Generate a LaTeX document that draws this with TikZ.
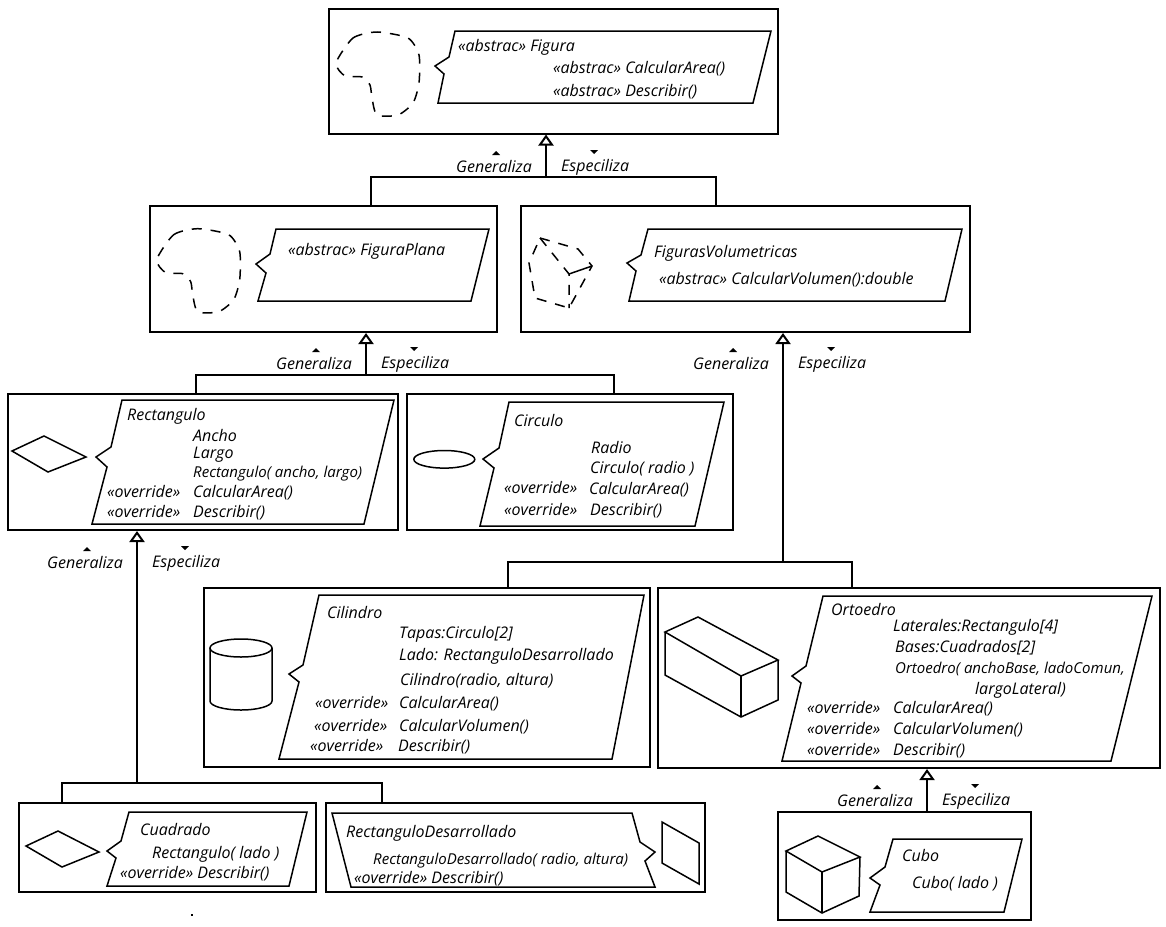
\documentclass[tikz,border=0pt]{standalone}
\usepackage{fontspec}
\setmainfont{Open Sans}
\usetikzlibrary{arrows.meta}
\tikzset{
  classbox/.style={draw,line width=2pt,inner sep=0pt},
  nota/.style={draw,line width=1.5pt,line join=miter},
  lbl/.style={anchor=west,inner sep=0pt,text height=11pt,text depth=3pt,yshift=-2pt},
  treeline/.style={line width=2pt},
  genline/.style={line width=2pt,-{Triangle[open,length=11pt,width=15pt]}},
  dashline/.style={line width=1.5pt,dash pattern=on 10pt off 9pt},
  solidfig/.style={line width=1.5pt,line join=miter}
}
\newcommand{\relabels}[3]{
  \node[lbl,name=#1Gen] at (#2,#3) {Generaliza};
  \node[lbl,name=#1Esp] at (#2+105,#3-1) {Especiliza};
  \fill (#2+36,#3-11) -- (#2+40,#3-15) -- (#2+44,#3-11) -- cycle;
  \fill (#2+134,#3-16) -- (#2+142,#3-16) -- (#2+138,#3-12) -- cycle;
}
\newcommand{\blobline}{
  \draw[dashline] plot[smooth cycle,tension=0.4] coordinates {(336,63) (353,38) (377,32) (408,38) (419,55) (419,83)
    (413,103) (398,115) (377,115) (372,98) (370,85) (362,77) (345,76)};
}
\newcommand{\tightfont}{\fontsize{15}{18}\selectfont}
\begin{document}
\begin{tikzpicture}[x=1pt,y=-1pt,font=\fontsize{16}{18}\selectfont\itshape]
  \useasboundingbox (0,0) rectangle (1166,926);

  \node[classbox,minimum width=449pt,minimum height=125pt] (figura) at (553.7,71) {};
  \node[classbox,minimum width=347pt,minimum height=126pt] (plana) at (323.5,269) {};
  \node[classbox,minimum width=449pt,minimum height=126pt] (volum) at (745.5,269) {};
  \node[classbox,minimum width=390pt,minimum height=136pt] (rectangulo) at (202.7,462) {};
  \node[classbox,minimum width=326pt,minimum height=136pt] (circulo) at (569.5,462) {};
  \node[classbox,minimum width=446pt,minimum height=179pt] (cilindro) at (427,677) {};
  \node[classbox,minimum width=502pt,minimum height=180pt] (ortoedro) at (909,678) {};
  \node[classbox,minimum width=297pt,minimum height=89pt] (cuadrado) at (167.3,847.5) {};
  \node[classbox,minimum width=379pt,minimum height=89pt] (rectdes) at (515.5,847.5) {};
  \node[classbox,minimum width=253pt,minimum height=108pt] (cubo) at (904.5,866) {};

  \coordinate (figuraL) at (371,177); \coordinate (figuraM) at (546,177); \coordinate (figuraR) at (716,177);
  \draw[genline] (figuraM) -- (figuraM |- figura.south);
  \draw[treeline] (figuraL |- plana.north) -- (figuraL) -- (figuraR) -- (figuraR |- volum.north);
  \coordinate (planaL) at (196,375); \coordinate (planaM) at (366,375); \coordinate (planaR) at (614,375);
  \draw[genline] (planaM) -- (planaM |- plana.south);
  \draw[treeline] (planaL |- rectangulo.north) -- (planaL) -- (planaR) -- (planaR |- circulo.north);
  \coordinate (volumL) at (508,562); \coordinate (volumM) at (783,562); \coordinate (volumR) at (852,562);
  \draw[genline] (volumM) -- (volumM |- volum.south);
  \draw[treeline] (volumL |- cilindro.north) -- (volumL) -- (volumR) -- (volumR |- ortoedro.north);
  \coordinate (rectL) at (62,783); \coordinate (rectM) at (137,783); \coordinate (rectR) at (382,783);
  \draw[genline] (rectM) -- (rectM |- rectangulo.south);
  \draw[treeline] (rectL |- cuadrado.north) -- (rectL) -- (rectR) -- (rectR |- rectdes.north);
  \coordinate (cuboTop) at (927,811.7);
  \draw[genline] (cuboTop) -- (cuboTop |- ortoedro.south);

  \relabels{figura}{456}{166}
  \relabels{plana}{276}{363}
  \relabels{volum}{693}{363}
  \relabels{rectangulo}{47}{562}
  \relabels{ortoedro}{837}{800}

  \draw[nota] (455,31) -- (771,31) -- (753,103) -- (438,103) -- (444,74) -- (435,66) -- (449,57) -- cycle;
  \draw[nota] (276,229) -- (489,229) -- (471,301) -- (258,301) -- (266,273) -- (256,264) -- (270,254) -- cycle;
  \draw[nota] (648,229) -- (962,229) -- (945,301) -- (629,301) -- (636,271) -- (627,263) -- (641,255) -- cycle;
  \draw[nota] (122,400) -- (394,400) -- (364,524) -- (92,524) -- (107,467) -- (96,457) -- (111,447) -- cycle;
  \draw[nota] (509,402) -- (724,402) -- (695,526) -- (480,526) -- (494,468) -- (483,459) -- (499,448) -- cycle;
  \draw[nota] (319,595) -- (644,595) -- (612,759) -- (279,759) -- (299,682) -- (289,674) -- (303,665) -- cycle;
  \draw[nota] (823,596) -- (1152,596) -- (1111,761) -- (782,761) -- (801,683) -- (792,676) -- (806,666) -- cycle;
  \draw[nota] (893,839) -- (1022,839) -- (1004,912) -- (870,912) -- (880,885) -- (870,878) -- (885,867) -- cycle;
  \draw[nota] (129,812) -- (307,812) -- (289,886) -- (107,886) -- (116,858) -- (107,851) -- (121,841) -- cycle;
  \draw[nota] (332,813) -- (632,813) -- (640,842) -- (655,852) -- (645,861) -- (655,887) -- (351,887) -- cycle;

  \blobline
  \begin{scope}[shift={(-179.3,196.7)}]
    \blobline
  \end{scope}

  \draw[dashline] (540,238) -- (578,249) -- (592,266) -- (569,308) -- (535,298) -- (529,263) -- cycle;
  \draw[dashline] (540,238) -- (569,274) -- (569,308);
  \draw[solidfig] (569,274) -- (592,266);

  \draw[solidfig] (12,451) -- (44,436) -- (86,457) -- (48,472) -- cycle;
  \draw[solidfig] (26,846) -- (58,831) -- (99,852) -- (62,867) -- cycle;
  \draw[solidfig] (444.3,459.3) ellipse [x radius=30.5,y radius=8.8];
  \draw[solidfig] (662,822) -- (699,843) -- (699,884) -- (662,863) -- cycle;

  \draw[solidfig] (241,648) ellipse [x radius=31,y radius=9];
  \draw[solidfig] (210,648) -- (210,701) arc [start angle=180,end angle=0,x radius=31,y radius=9] -- (272,648);

  \draw[solidfig] (665,632) -- (698,617) -- (778,660) -- (741,676) -- cycle;
  \draw[solidfig] (665,632) -- (665,675) -- (741,717) -- (778,700) -- (778,660);
  \draw[solidfig] (741,676) -- (741,717);
  \draw[solidfig] (786,851) -- (818,836) -- (860,857) -- (822,872) -- cycle;
  \draw[solidfig] (786,851) -- (786,892) -- (822,913) -- (859,896) -- (860,857);
  \draw[solidfig] (822,872) -- (822,913);

  \foreach \nm/\x/\y/\txt in {
    figA/458/45/{<<abstrac>> Figura}, figB/553/67/{<<abstrac>> CalcularArea()}, figC/553/90/{<<abstrac>> Describir()},
    plaA/288/249/{<<abstrac>> FiguraPlana},
    volA/654/251/{FigurasVolumetricas}, volB/659/278/{<<abstrac>> CalcularVolumen():double},
    recA/127/414/{Rectangulo}, recB/193/435/{Ancho}, recC/193/452/{Largo}, recD/193/471/{\tightfont Rectangulo( ancho, largo)},
    recE/107/491/{<<override>>}, recF/193/491/{CalcularArea()}, recG/107/511/{<<override>>}, recH/193/511/{Describir()},
    cirA/514/420/{Circulo}, cirB/591/447/{Radio}, cirC/590/467/{Circulo( radio )},
    cirD/504/487/{<<override>>}, cirE/589/488/{CalcularArea()}, cirF/504/509/{<<override>>}, cirG/590/509/{Describir()},
    cilA/327/612/{Cilindro}, cilB/399/632/{Tapas:Circulo[2]}, cilC/399/654/{Lado: RectanguloDesarrollado},
    cilD/400/679/{Cilindro(radio, altura)}, cilE/315/702/{<<override>>}, cilF/399/702/{CalcularArea()},
    cilG/314/725/{<<override>>}, cilH/399/725/{CalcularVolumen()}, cilI/310/745/{<<override>>}, cilJ/398/745/{Describir()},
    ortA/831/609/{Ortoedro}, ortB/893/625/{Laterales:Rectangulo[4]}, ortC/895/646/{Bases:Cuadrados[2]},
    ortD/895/667/{\tightfont Ortoedro( anchoBase, ladoComun,}, ortE/975/688/{largoLateral)},
    ortF/807/707/{<<override>>}, ortG/893/707/{CalcularArea()}, ortH/807/728/{<<override>>}, ortI/893/728/{CalcularVolumen()},
    ortJ/807/749/{<<override>>}, ortK/893/749/{Describir()},
    cuaA/140/829/{Cuadrado}, cuaB/152/852/{Rectangulo( lado )}, cuaC/120/872/{<<override>> Describir()},
    desA/346/831/{RectanguloDesarrollado}, desB/373/858/{\tightfont RectanguloDesarrollado( radio, altura)}, desC/354/877/{<<override>> Describir()},
    cubA/902/855/{Cubo}, cubB/912/882/{Cubo( lado )}
  }{
    \node[lbl,name=\nm] at (\x,\y) {\txt};
  }

  \fill (190.5,913.5) rectangle (192.5,915.5);
\end{tikzpicture}
\end{document}
